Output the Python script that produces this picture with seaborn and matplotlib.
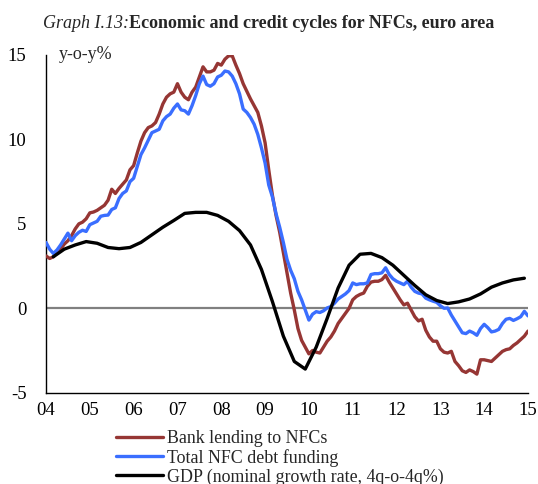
import numpy as np
import pandas as pd
import seaborn as sns
import matplotlib.pyplot as plt
from matplotlib.lines import Line2D

# ---------------- data ----------------
# monthly series, Jan 2004 .. Jan 2015 (y-o-y %)
bank_lending = [
    3.1, 2.95, 3.05, 3.3, 3.5, 3.8, 4.0, 4.3, 4.7, 5.0, 5.1, 5.3,
    5.65, 5.7, 5.8, 5.95, 6.1, 6.4, 7.05, 6.8, 7.1, 7.35, 7.6, 8.2,
    8.45, 9.2, 9.9, 10.4, 10.7, 10.8, 11.0, 11.5, 12.1, 12.5, 12.7, 12.8,
    13.3, 12.8, 12.5, 12.35, 12.8, 13.1, 13.7, 14.3, 14.0, 14.0, 14.1, 14.5,
    14.4, 14.75, 14.95, 14.95, 14.4, 13.9, 13.3, 12.85, 12.4, 12.0, 11.6, 10.8,
    9.8, 8.2, 6.7, 5.5, 4.5, 3.3, 2.1, 0.9, -0.1, -1.2, -1.9, -2.3,
    -2.7, -2.5, -2.6, -2.65, -2.3, -1.95, -1.7, -1.35, -0.9, -0.6, -0.3, 0.0,
    0.5, 0.7, 0.82, 0.9, 1.3, 1.55, 1.6, 1.6, 1.7, 1.95, 1.55, 1.2,
    0.85, 0.5, 0.2, 0.3, -0.1, -0.5, -0.75, -0.65, -1.3, -1.7, -1.95, -1.95,
    -2.4, -2.6, -2.65, -2.55, -3.15, -3.4, -3.7, -3.8, -3.65, -3.75, -3.9, -3.05,
    -3.05, -3.1, -3.15, -2.95, -2.75, -2.55, -2.45, -2.4, -2.2, -2.05, -1.85, -1.65,
    -1.35,
]
total_debt = [
    3.9, 3.5, 3.25, 3.45, 3.75, 4.1, 4.45, 4.0, 4.3, 4.5, 4.62, 4.55,
    4.95, 5.05, 5.15, 5.45, 5.5, 5.52, 5.85, 5.95, 6.5, 6.8, 6.95, 7.5,
    7.7, 8.4, 9.1, 9.5, 9.95, 10.4, 10.5, 10.6, 11.1, 11.35, 11.5, 11.85,
    12.1, 11.75, 11.7, 11.5, 12.0, 12.6, 13.3, 13.75, 13.25, 13.15, 13.3, 13.7,
    13.8, 14.05, 14.0, 13.75, 13.3, 12.7, 11.8, 11.6, 11.3, 10.9, 10.3, 9.5,
    8.6, 7.3, 6.6, 5.6, 4.8, 3.9, 2.9, 2.25, 1.75, 1.0, 0.5, -0.1,
    -0.7, -0.35, -0.2, -0.25, -0.15, 0.02, 0.1, 0.3, 0.55, 0.7, 0.85, 1.05,
    1.5, 1.4, 1.45, 1.45, 1.5, 2.0, 2.05, 2.05, 2.1, 2.4, 2.0, 1.75,
    1.6, 1.5, 1.4, 1.6, 1.25, 1.0, 0.9, 0.85, 0.6, 0.5, 0.42, 0.35,
    0.15, 0.0, 0.02, -0.4, -0.75, -1.1, -1.45, -1.5, -1.35, -1.45, -1.6, -1.2,
    -0.95, -1.15, -1.4, -1.35, -1.25, -0.9, -0.65, -0.6, -0.72, -0.62, -0.5, -0.18,
    -0.45,
]
# quarterly GDP nominal growth, 2004Q1 .. 2014Q4 (4q-o-4q %)
gdp = [
    3.05, 3.5, 3.75, 3.95, 3.85, 3.6, 3.53, 3.6,
    3.9, 4.35, 4.8, 5.2, 5.62, 5.68, 5.68, 5.5,
    5.15, 4.6, 3.75, 2.3, 0.4, -1.65, -3.15, -3.6,
    -2.3, -0.6, 1.2, 2.55, 3.2, 3.25, 3.0, 2.55,
    1.95, 1.35, 0.8, 0.46, 0.28, 0.38, 0.55, 0.85,
    1.25, 1.5, 1.68, 1.78,
]
year_ticks = list(range(2004, 2016))
year_labels = ["04", "05", "06", "07", "08", "09", "10", "11", "12", "13", "14", "15"]
y_ticks = [-5, 0, 5, 10, 15]
y_labels = ["-5", "0", "5", "10", "15"]
series_names = ["Bank lending to NFCs", "Total NFC debt funding",
                "GDP (nominal growth rate, 4q-o-4q%)"]

# ---------------- frames ----------------
t_month = 2004 + np.arange(len(bank_lending)) / 12.0
t_quarter = 2004 + (2 + 3 * np.arange(len(gdp))) / 12.0
df = pd.concat([
    pd.DataFrame({"t": t_month, "v": bank_lending, "s": series_names[0]}),
    pd.DataFrame({"t": t_month, "v": total_debt, "s": series_names[1]}),
    pd.DataFrame({"t": t_quarter, "v": gdp, "s": series_names[2]}),
])

colors = {series_names[0]: "#963634", series_names[1]: "#3A6EFF", series_names[2]: "#000000"}

sns.set_theme(style="white")
plt.rcParams["font.family"] = ["Liberation Serif", "DejaVu Serif"]
plt.rcParams["axes.unicode_minus"] = False

fig = plt.figure(figsize=(5.38, 4.84), dpi=100)
ax = fig.add_axes([46 / 538, 1 - 392.7 / 484, (528 - 46) / 538, (392.7 - 55) / 484])

ax.axhline(0, color="#808080", lw=1.6, zorder=1)
sns.lineplot(data=df, x="t", y="v", hue="s", palette=colors, ax=ax,
             linewidth=2.4, legend=False, sort=False, zorder=3)

ax.set_xlim(2004, 2015)
ax.set_ylim(-5, 15)
ax.set_xticks(year_ticks)
ax.set_xticklabels(year_labels)
ax.set_yticks(y_ticks)
ax.set_yticklabels(y_labels)
ax.set_xlabel("")
ax.set_ylabel("")
ax.tick_params(axis="both", direction="in", length=5, width=0.8, color="#333333",
               labelsize=13.5, colors="black")
ax.tick_params(axis="x", pad=7, labelcolor="black")
ax.tick_params(axis="y", pad=14, labelcolor="black")
for sp in ["top", "right"]:
    ax.spines[sp].set_visible(False)
for sp in ["left", "bottom"]:
    ax.spines[sp].set_color("black")
    ax.spines[sp].set_linewidth(1.0)
ax.set_facecolor("white")

ax.text(2004.3, 15, "y-o-y%", fontsize=13, va="center", ha="left")

t1 = fig.text(43 / 538, 1 - 23 / 484, "Graph I.13:", fontsize=13, style="italic",
              va="center", ha="left")
fig.canvas.draw()
bb = t1.get_window_extent(renderer=fig.canvas.get_renderer())
fig.text(bb.x1 / fig.bbox.width, 1 - 23 / 484,
         "Economic and credit cycles for NFCs, euro area",
         fontsize=13, weight="bold", va="center", ha="left")

handles = [Line2D([0], [0], color=colors[n], lw=2.4) for n in series_names]
fig.legend(handles, series_names, loc="upper left",
           bbox_to_anchor=(116 / 538, 1 - 430 / 484), bbox_transform=fig.transFigure,
           frameon=False, fontsize=12.9, handlelength=2.6, handletextpad=0.25,
           labelspacing=0.1, borderpad=0, borderaxespad=0)

fig.savefig("out.png", dpi=100, facecolor="white")
